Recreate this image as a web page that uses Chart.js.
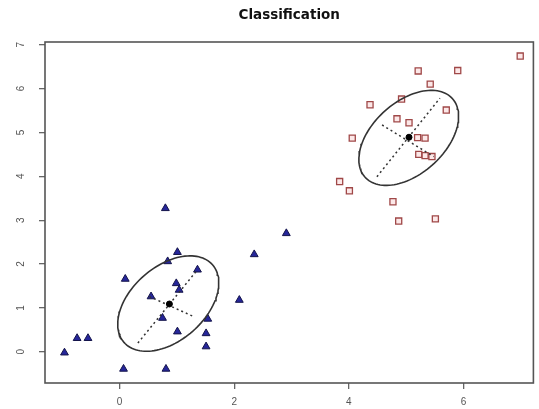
<!DOCTYPE html>
<html><head><meta charset="utf-8">
<script src="https://cdn.jsdelivr.net/npm/chart.js@4.4.1/dist/chart.umd.min.js"></script>
<style>html,body{margin:0;padding:0;background:#fff;} canvas{display:block;}</style>
</head><body>
<canvas id="c" width="539" height="409"></canvas>
<script>
const chartTitle = "Classification";
const xTicks = [0, 2, 4, 6];
const yTicks = [0, 1, 2, 3, 4, 5, 6, 7];
const xRange = [-1.30, 7.22];
const yRange = [-0.71, 7.06];

// class 1 (filled blue triangles)
const class1X = [0.80, 2.91, 2.35, 1.01, 0.84, 0.10, 1.36, 0.99, 1.04, 0.55, 2.09, 0.75, 1.54, 1.01, 1.51, 1.51, -0.74, -0.55, -0.96, 0.07, 0.81];
const class1Y = [3.27, 2.70, 2.22, 2.27, 2.06, 1.66, 1.87, 1.56, 1.41, 1.26, 1.18, 0.77, 0.75, 0.46, 0.42, 0.12, 0.31, 0.31, -0.02, -0.39, -0.39];
// class 2 (open red squares)
const class2X = [6.99, 5.21, 5.90, 5.42, 4.37, 4.92, 5.70, 4.84, 5.05, 4.06, 5.20, 5.33, 5.22, 5.33, 5.45, 3.84, 4.01, 4.77, 4.87, 5.51];
const class2Y = [6.74, 6.40, 6.41, 6.10, 5.63, 5.76, 5.51, 5.31, 5.22, 4.87, 4.88, 4.87, 4.50, 4.47, 4.45, 3.88, 3.67, 3.42, 2.98, 3.03];

// class means
const meanX = [0.87, 5.05];
const meanY = [1.09, 4.89];
// ellipse parameters (data units)
const ellipseCX = [0.85, 5.045];
const ellipseCY = [1.10, 4.875];
const ellipseSemiMajor = [1.20, 1.20];
const ellipseSemiMinor = [0.72, 0.70];
const ellipseAngleDeg = [58, 58];
// dashed principal axes
const majorAxisX = [[0.32, 1.36], [4.49, 5.59]];
const majorAxisY = [[0.20, 1.87], [3.99, 5.78]];
const minorAxisX = [[0.52, 1.30], [4.58, 5.48]];
const minorAxisY = [[1.26, 0.80], [5.17, 4.45]];

function ellipsePts(i) {
  const pts = [];
  const a = ellipseSemiMajor[i], b = ellipseSemiMinor[i];
  const th = ellipseAngleDeg[i] * Math.PI / 180;
  for (let k = 0; k <= 120; k++) {
    const t = 2 * Math.PI * k / 120;
    const u = a * Math.cos(t), v = b * Math.sin(t);
    pts.push({x: ellipseCX[i] + u * Math.cos(th) - v * Math.sin(th),
              y: ellipseCY[i] + u * Math.sin(th) + v * Math.cos(th)});
  }
  return pts;
}
const zip = (xs, ys) => xs.map((x, i) => ({x, y: ys[i]}));

const datasets = [];
for (let i = 0; i < 2; i++) {
  datasets.push({data: ellipsePts(i), showLine: true, pointRadius: 0, borderColor: '#333', borderWidth: 1.6, fill: false, order: 1});
  datasets.push({data: zip(majorAxisX[i], majorAxisY[i]), showLine: true, pointRadius: 0, borderColor: '#333', borderWidth: 1.5, borderDash: [2, 3], order: 1});
  datasets.push({data: zip(minorAxisX[i], minorAxisY[i]), showLine: true, pointRadius: 0, borderColor: '#333', borderWidth: 1.5, borderDash: [2, 3], order: 1});
}
datasets.push({data: zip(meanX, meanY), pointStyle: 'circle', pointRadius: 3, backgroundColor: '#000', borderColor: '#000', order: 0});
datasets.push({data: zip(class1X, class1Y), pointStyle: 'triangle', pointRadius: 4.5, backgroundColor: '#26269a', borderColor: '#14144a', borderWidth: 1, order: 2});
datasets.push({data: zip(class2X, class2Y), pointStyle: 'rect', pointRadius: 4.3, backgroundColor: 'rgba(245,190,190,0.35)', borderColor: '#a04848', borderWidth: 1.3, order: 2});

const boxPlugin = {
  id: 'box',
  afterDraw(chart) {
    const {ctx, chartArea: a} = chart;
    ctx.save();
    ctx.strokeStyle = '#555';
    ctx.lineWidth = 1.6;
    ctx.strokeRect(a.left, a.top, a.right - a.left, a.bottom - a.top);
    ctx.restore();
  }
};

new Chart(document.getElementById('c'), {
  type: 'scatter',
  data: {datasets},
  plugins: [boxPlugin],
  options: {
    responsive: false,
    animation: false,
    devicePixelRatio: 1,
    layout: {padding: {left: 0, right: 4, top: 0, bottom: 0}},
    plugins: {
      legend: {display: false},
      tooltip: {enabled: false},
      title: {display: true, text: chartTitle, color: '#111', fullSize: false,
              font: {family: 'DejaVu Sans, sans-serif', size: 13.5, weight: 'bold'},
              padding: {top: 7, bottom: 18.8}}
    },
    scales: {
      x: {
        type: 'linear', min: xRange[0], max: xRange[1],
        afterBuildTicks: s => { s.ticks = xTicks.map(v => ({value: v})); },
        afterFit: s => { s.height = 26; },
        grid: {display: true, drawOnChartArea: false, drawTicks: true, tickLength: 6, color: '#666', lineWidth: 1.3},
        border: {display: false},
        ticks: {color: '#555', padding: 7, font: {family: 'Liberation Sans, Arial, sans-serif', size: 10}, maxRotation: 0, autoSkip: false}
      },
      y: {
        type: 'linear', min: yRange[0], max: yRange[1],
        afterBuildTicks: s => { s.ticks = yTicks.map(v => ({value: v})); },
        afterFit: s => { s.width = 45; },
        grid: {display: true, drawOnChartArea: false, drawTicks: true, tickLength: 6, color: '#666', lineWidth: 1.3},
        border: {display: false},
        ticks: {color: '#555', padding: 15, minRotation: 90, maxRotation: 90, crossAlign: 'center',
                font: {family: 'Liberation Sans, Arial, sans-serif', size: 10}, autoSkip: false}
      }
    }
  }
});
</script>
</body></html>
